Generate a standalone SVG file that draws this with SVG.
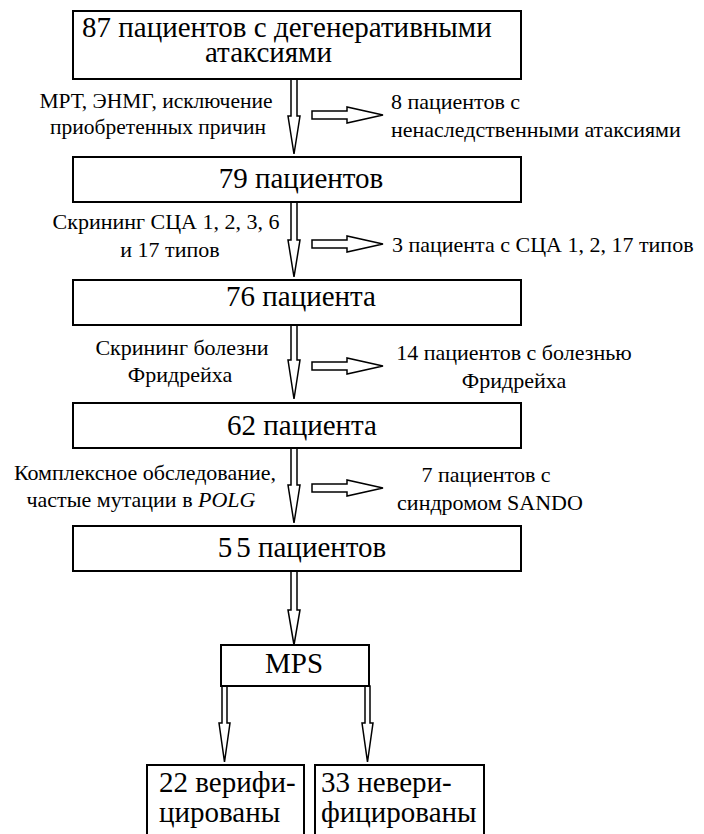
<svg xmlns="http://www.w3.org/2000/svg" width="704" height="834" viewBox="0 0 704 834">
<style>
.box{fill:#fff;stroke:#000;stroke-width:2}
.arr{fill:#fff;stroke:#000;stroke-width:1.5}
</style>
<rect width="704" height="834" fill="#fff"/>
<g id="connectors">
<polygon class="arr" points="291,79 297,79 297,116 300,116 294,154 288,116 291,116"/>
<polygon class="arr" points="291,202 297,202 297,240 300,240 294,277 288,240 291,240"/>
<polygon class="arr" points="291,325 297,325 297,360 300,360 294,399 288,360 291,360"/>
<polygon class="arr" points="291,448 297,448 297,485 300,485 294,523 288,485 291,485"/>
<polygon class="arr" points="291,571 297,571 297,610 300,610 294,645 288,610 291,610"/>
<polygon class="arr" points="222,686 227,686 227,723 230,723 224.5,762 219,723 222,723"/>
<polygon class="arr" points="365,686 370,686 370,723 373,723 367.5,762 362,723 365,723"/>
<polygon class="arr" points="312,111 347,111 347,107 383,115 347,123 347,119 312,119"/>
<polygon class="arr" points="312,240 347,240 347,236 383,244 347,252 347,248 312,248"/>
<polygon class="arr" points="312,362 347,362 347,358 383,366 347,374 347,370 312,370"/>
<polygon class="arr" points="312,484 347,484 347,480 383,488 347,496 347,492 312,492"/>
</g>
<g id="n87">
<rect class="box" x="73" y="11" width="448" height="68"/>
<text font-family="Times New Roman, Liberation Serif, Tinos, serif" font-size="29" x="82" y="37">87 пациентов с дегенеративными</text>
<text font-family="Times New Roman, Liberation Serif, Tinos, serif" font-size="29" x="205" y="62">атаксиями</text>
</g>
<g id="n79">
<rect class="box" x="73" y="157" width="448" height="45"/>
<text font-family="Times New Roman, Liberation Serif, Tinos, serif" font-size="29" text-anchor="middle" x="301" y="188">79 пациентов</text>
</g>
<g id="n76">
<rect class="box" x="73" y="280" width="448" height="45"/>
<text font-family="Times New Roman, Liberation Serif, Tinos, serif" font-size="29" text-anchor="middle" x="301" y="306">76 пациента</text>
</g>
<g id="n62">
<rect class="box" x="73" y="403" width="448" height="45"/>
<text font-family="Times New Roman, Liberation Serif, Tinos, serif" font-size="29" text-anchor="middle" x="302" y="435">62 пациента</text>
</g>
<g id="n55">
<rect class="box" x="73" y="526" width="448" height="45"/>
<text font-family="Times New Roman, Liberation Serif, Tinos, serif" font-size="29" text-anchor="middle" x="302" y="557">5<tspan dx="4">5</tspan> пациентов</text>
</g>
<g id="nMPS">
<rect class="box" x="221" y="645" width="148" height="41"/>
<text font-family="Times New Roman, Liberation Serif, Tinos, serif" font-size="29" text-anchor="middle" x="294" y="673">MPS</text>
</g>
<g id="n22">
<rect class="box" x="147" y="765" width="157" height="80"/>
<text font-family="Times New Roman, Liberation Serif, Tinos, serif" font-size="29" x="159" y="792">22 верифи-</text>
<text font-family="Times New Roman, Liberation Serif, Tinos, serif" font-size="29" x="159" y="822">цированы</text>
</g>
<g id="n33">
<rect class="box" x="315" y="765" width="169" height="80"/>
<text font-family="Times New Roman, Liberation Serif, Tinos, serif" font-size="29" x="321" y="792">33 невери-</text>
<text font-family="Times New Roman, Liberation Serif, Tinos, serif" font-size="29" x="321" y="822">фицированы</text>
</g>
<g id="labels">
<text font-family="Times New Roman, Liberation Serif, Tinos, serif" font-size="21.5" text-anchor="middle" x="156" y="108">МРТ, ЭНМГ, исключение</text>
<text font-family="Times New Roman, Liberation Serif, Tinos, serif" font-size="21.5" text-anchor="middle" x="158" y="134">приобретенных причин</text>
<text font-family="Times New Roman, Liberation Serif, Tinos, serif" font-size="22" x="391" y="109">8 пациентов с</text>
<text font-family="Times New Roman, Liberation Serif, Tinos, serif" font-size="22" x="391" y="137">ненаследственными атаксиями</text>
<text font-family="Times New Roman, Liberation Serif, Tinos, serif" font-size="22" text-anchor="middle" x="166" y="229">Скрининг СЦА 1, 2, 3, 6</text>
<text font-family="Times New Roman, Liberation Serif, Tinos, serif" font-size="22" text-anchor="middle" x="170" y="257">и 17 типов</text>
<text font-family="Times New Roman, Liberation Serif, Tinos, serif" font-size="22" x="392" y="252">3 пациента с СЦА 1, 2, 17 типов</text>
<text font-family="Times New Roman, Liberation Serif, Tinos, serif" font-size="22" text-anchor="middle" x="182" y="355">Скрининг болезни</text>
<text font-family="Times New Roman, Liberation Serif, Tinos, serif" font-size="22" text-anchor="middle" x="180" y="382">Фридрейха</text>
<text font-family="Times New Roman, Liberation Serif, Tinos, serif" font-size="22" text-anchor="middle" x="514" y="360">14 пациентов с болезнью</text>
<text font-family="Times New Roman, Liberation Serif, Tinos, serif" font-size="22" text-anchor="middle" x="514" y="388">Фридрейха</text>
<text font-family="Times New Roman, Liberation Serif, Tinos, serif" font-size="22" text-anchor="middle" x="145" y="480">Комплексное обследование,</text>
<text font-family="Times New Roman, Liberation Serif, Tinos, serif" font-size="22" text-anchor="middle" x="141" y="507">частые мутации в <tspan font-style="italic">POLG</tspan></text>
<text font-family="Times New Roman, Liberation Serif, Tinos, serif" font-size="22" text-anchor="middle" x="486" y="482">7 пациентов с</text>
<text font-family="Times New Roman, Liberation Serif, Tinos, serif" font-size="22" text-anchor="middle" x="490" y="510">синдромом SANDO</text>
</g>
</svg>
